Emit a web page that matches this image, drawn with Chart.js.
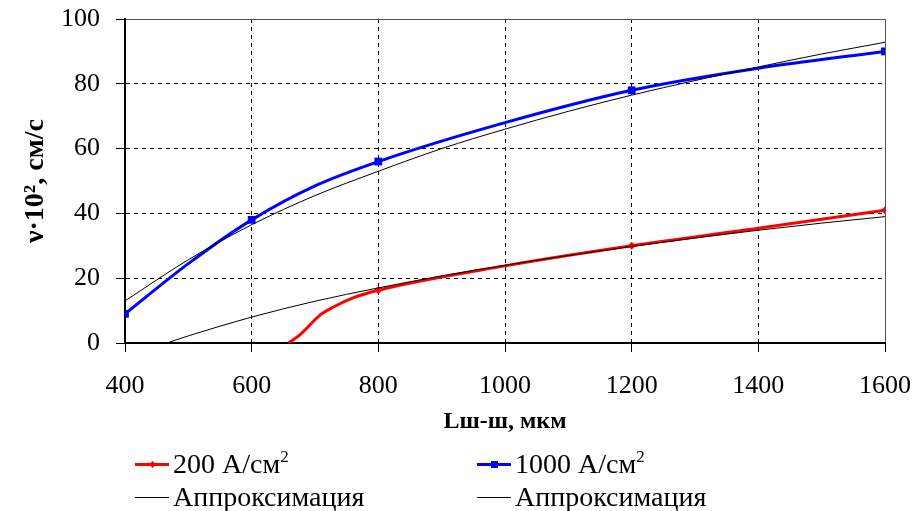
<!DOCTYPE html>
<html>
<head>
<meta charset="utf-8">
<script src="https://cdn.jsdelivr.net/npm/chart.js@4.4.1/dist/chart.umd.min.js"></script>
<style>
  html, body { margin: 0; padding: 0; background: #fff; }
  #wrap { position: relative; width: 916px; height: 511px; }
  canvas { position: absolute; left: 0; top: 0; }
  .leg { position: absolute; display: flex; align-items: center; font-family: "Liberation Serif", "Times New Roman", serif; font-size: 28px; color: #000; white-space: nowrap; }
  .leg .sw { position: relative; width: 34px; margin-right: 4px; }
  .leg .ln { position: absolute; left: 0; right: 0; top: 50%; }
  .leg .mk { position: absolute; left: 50%; top: 50%; }
  .leg sup { font-size: 17px; vertical-align: 11px; line-height: 0; }
</style>
</head>
<body>
<div id="wrap">
  <canvas id="c" width="916" height="511"></canvas>
</div>
<script>
// Category / tick values
const xTicks = [400, 600, 800, 1000, 1200, 1400, 1600];
const yTicks = [0, 20, 40, 60, 80, 100];

// Series: 200 A/cm2 (measured)
const red_x = [658, 676, 708, 729, 761, 800, 1000, 1200, 1400, 1600];
const red_y = [0, 2.5, 8.6, 11.1, 14.0, 16.3, 23.8, 30.0, 35.4, 41.0];
const red_marked = [false, false, false, false, false, true, false, true, false, true];

// Series: 1000 A/cm2 (measured)
const blue_x = [400, 500, 600, 700, 800, 1000, 1200, 1400, 1600];
const blue_y = [9.0, 24.5, 38.0, 48.5, 56.0, 68.0, 78.0, 84.8, 90.0];
const blue_marked = [true, false, true, false, true, false, true, false, true];

// Approximation for 200 A/cm2
const appr1_x = [466, 500, 600, 700, 800, 900, 1000, 1100, 1200, 1300, 1400, 1500, 1600];
const appr1_y = [0, 2.2, 8.0, 12.9, 17.0, 20.7, 24.0, 27.0, 29.8, 32.4, 34.8, 37.0, 39.0];

// Approximation for 1000 A/cm2
const appr2_x = [400, 500, 600, 700, 800, 900, 1000, 1100, 1200, 1300, 1400, 1500, 1600];
const appr2_y = [13.0, 25.7, 36.5, 45.5, 53.0, 60.0, 66.0, 71.5, 76.5, 81.0, 85.2, 89.2, 92.8];

const labels = ["200 А/см²", "1000 А/см²", "Аппроксимация", "Аппроксимация"];

const toPts = (xs, ys) => xs.map((x, i) => ({x: x, y: ys[i]}));
const FONT = '"Liberation Serif", "Times New Roman", serif';

const datasets = [
  {
    label: labels[0], data: toPts(red_x, red_y),
    borderColor: '#ff0000', backgroundColor: '#ff0000', borderWidth: 3,
    pointStyle: 'rectRot', pointRadius: red_marked.map(m => m ? 4 : 0), pointBorderWidth: 0,
    cubicInterpolationMode: 'monotone', order: 1
  },
  {
    label: labels[1], data: toPts(blue_x, blue_y),
    borderColor: '#0000ff', backgroundColor: '#0000ff', borderWidth: 3,
    pointStyle: 'rect', pointRadius: blue_marked.map(m => m ? 5.5 : 0), pointBorderWidth: 0,
    cubicInterpolationMode: 'monotone', order: 1
  },
  {
    label: labels[2], data: toPts(appr1_x, appr1_y),
    borderColor: '#000000', borderWidth: 1, pointRadius: 0,
    cubicInterpolationMode: 'monotone', order: 0
  },
  {
    label: labels[3], data: toPts(appr2_x, appr2_y),
    borderColor: '#000000', borderWidth: 1, pointRadius: 0,
    cubicInterpolationMode: 'monotone', order: 0
  }
];

const dashFor = (edgeVal) => (ctx) => (ctx.tick && ctx.tick.value === edgeVal) ? [] : [4, 4];
const colorFor = (edgeVal) => (ctx) => (ctx.tick && ctx.tick.value === edgeVal) ? '#555555' : '#000000';

const chart = new Chart(document.getElementById('c'), {
  type: 'line',
  data: { datasets: datasets },
  options: {
    responsive: false,
    animation: false,
    layout: { padding: { left: 0, top: 19, right: 31, bottom: 68 } },
    plugins: { legend: { display: false }, tooltip: { enabled: false } },
    scales: {
      x: {
        type: 'linear', min: xTicks[0], max: xTicks[xTicks.length - 1],
        afterBuildTicks: (s) => { s.ticks = xTicks.map(v => ({value: v})); },
        afterFit: (s) => { s.height = 100; s.paddingLeft = 0; s.paddingRight = 0; },
        ticks: { color: '#000', font: { family: FONT, size: 26 }, padding: 19, maxRotation: 0, callback: (v) => String(v) },
        grid: { color: colorFor(1600), lineWidth: 1, tickLength: 9, tickColor: '#000', tickBorderDash: [] },
        border: { display: true, color: '#000', width: 2, dash: dashFor(1600) },
        title: { display: true, text: 'Lш-ш, мкм', color: '#000', font: { family: FONT, size: 24, weight: 'bold' }, padding: { top: 0, bottom: 7 } }
      },
      y: {
        type: 'linear', min: yTicks[0], max: yTicks[yTicks.length - 1],
        afterBuildTicks: (s) => { s.ticks = yTicks.map(v => ({value: v})); },
        afterFit: (s) => { s.width = 125; s.paddingTop = 0; s.paddingBottom = 0; },
        ticks: { color: '#000', font: { family: FONT, size: 26 }, padding: 16, callback: (v) => String(v) },
        grid: { color: colorFor(100), lineWidth: 1, tickLength: 9, tickColor: '#000', tickBorderDash: [] },
        border: { display: true, color: '#000', width: 2, dash: dashFor(100) },
        title: { display: true, text: 'ν·10², см/с', color: '#000', font: { family: FONT, size: 28, weight: 'bold' }, padding: { top: 19, bottom: 0 } }
      }
    }
  }
});

// HTML legend built from datasets
const legPos = [
  {left: 135, top: 464}, {left: 477, top: 464},
  {left: 135, top: 497}, {left: 477, top: 497}
];
const wrap = document.getElementById('wrap');
datasets.forEach((ds, i) => {
  const d = document.createElement('div');
  d.className = 'leg';
  d.style.left = legPos[i].left + 'px';
  d.style.top = (legPos[i].top - 16) + 'px';
  d.style.height = '32px';
  const sw = document.createElement('span');
  sw.className = 'sw';
  sw.style.height = '32px';
  const ln = document.createElement('span');
  ln.className = 'ln';
  ln.style.height = ds.borderWidth + 'px';
  ln.style.marginTop = (-ds.borderWidth / 2) + 'px';
  ln.style.background = ds.borderColor;
  sw.appendChild(ln);
  if (ds.pointStyle) {
    const mk = document.createElement('span');
    mk.className = 'mk';
    const s = ds.pointStyle === 'rect' ? 7 : 5;
    mk.style.width = s + 'px'; mk.style.height = s + 'px';
    mk.style.marginLeft = (-s / 2) + 'px'; mk.style.marginTop = (-s / 2) + 'px';
    mk.style.background = ds.borderColor;
    if (ds.pointStyle === 'rectRot') mk.style.transform = 'rotate(45deg)';
    sw.appendChild(mk);
  }
  d.appendChild(sw);
  const t = document.createElement('span');
  const m = ds.label.match(/^(.*)²$/);
  if (m) { t.innerHTML = m[1] + '<sup>2</sup>'; } else { t.textContent = ds.label; }
  d.appendChild(t);
  wrap.appendChild(d);
});
</script>
</body>
</html>
